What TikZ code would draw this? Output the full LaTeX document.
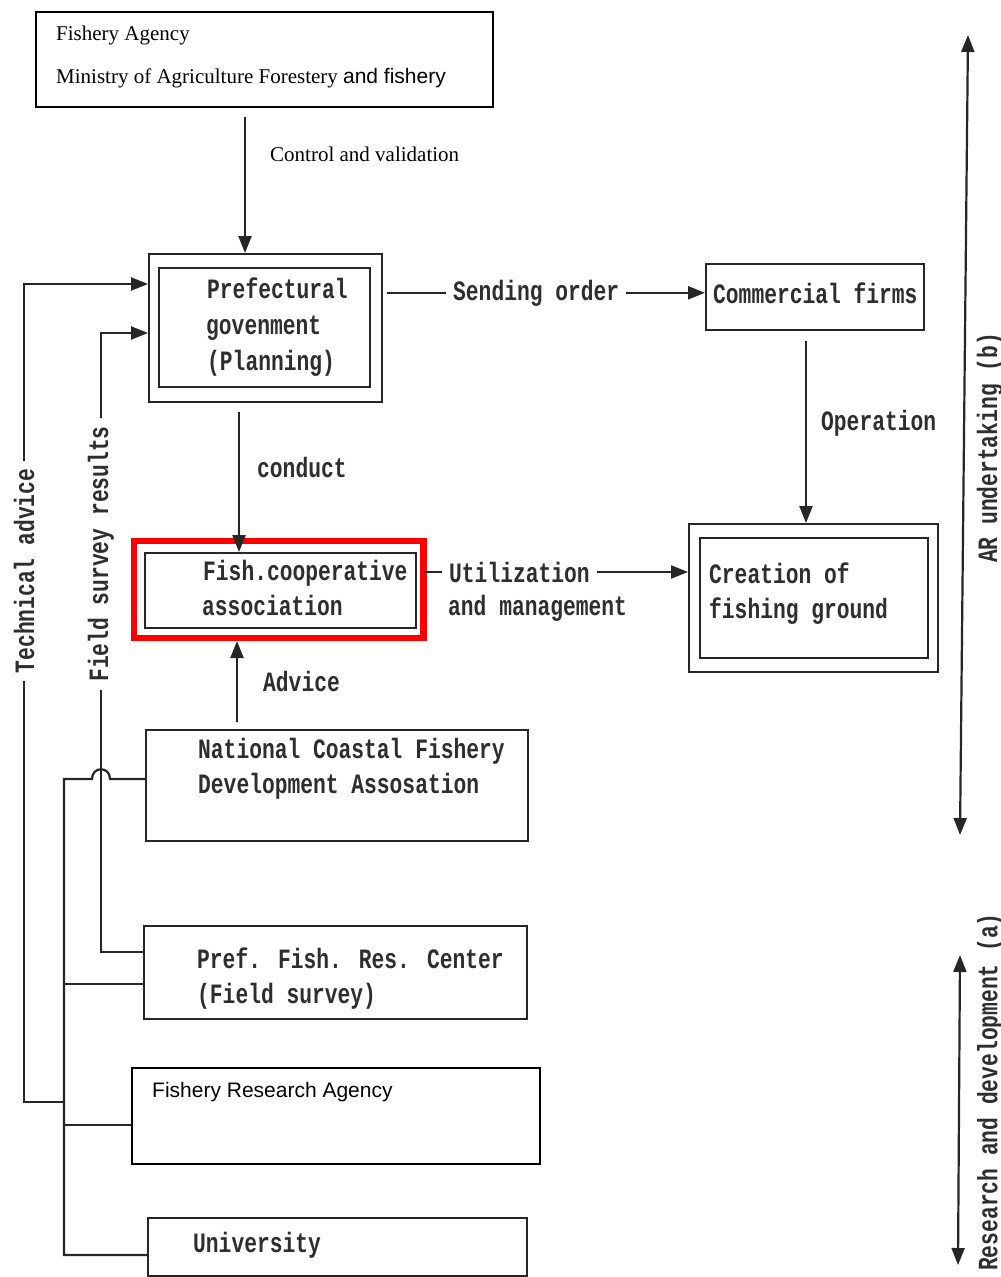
\documentclass[tikz,border=0pt]{standalone}
\usepackage{fontspec}
\setmainfont{Liberation Serif}
\newfontfamily\twfont[FakeStretch=0.76]{Liberation Mono}
\newfontfamily\sansfont{Liberation Sans}
\usetikzlibrary{arrows.meta}
\begin{document}
\begin{tikzpicture}[x=1pt,y=-1pt,
  ln/.style={line width=2.2pt,draw=black!85},
  tip/.tip={Triangle[length=17pt,width=13pt]},
  arr/.style={ln,-tip},
  bx/.style={draw=black!85,line width=2.2pt,inner sep=0pt,anchor=north west},
  tw/.style={font=\twfont\bfseries\fontsize{28}{34}\selectfont,inner sep=0pt,anchor=base west,text=black!82},
  sr/.style={font=\fontsize{21}{25}\selectfont,inner sep=0pt,anchor=base west},
  vt/.style={tw,anchor=center,rotate=90,inner xsep=8pt},
  gap/.style={inner xsep=7pt},
]
\useasboundingbox[fill=white] (0,0) rectangle (1001,1277);

% boxes
\node[bx,minimum width=457pt,minimum height=95pt,draw=black,line width=1.6pt] (fa) at (35,11) {};
\node[bx,minimum width=233pt,minimum height=148pt] (prefo) at (148,253) {};
\node[bx,minimum width=211pt,minimum height=119pt] (prefi) at (158,267) {};
\node[bx,minimum width=271pt,minimum height=75pt] (fca) at (144,552) {};
\node[draw=red,line width=6.5pt,inner sep=0pt,anchor=north west,minimum width=289.5pt,minimum height=97pt] (hl) at (130.5,537.5) {};
\node[bx,minimum width=382pt,minimum height=111pt] (ncf) at (145,729) {};
\node[bx,minimum width=383pt,minimum height=93pt] (pfr) at (143,925) {};
\node[bx,minimum width=408pt,minimum height=96pt,draw=black,line width=1.6pt] (fra) at (131,1067) {};
\node[bx,minimum width=379pt,minimum height=58pt] (uni) at (147,1217) {};
\node[bx,minimum width=218pt,minimum height=66pt] (com) at (705,263) {};
\node[bx,minimum width=249pt,minimum height=148pt] (crto) at (688,523) {};
\node[bx,minimum width=228pt,minimum height=120pt] (crti) at (699,537) {};

% texts in boxes
\node[sr] (fat) at (56,40) {Fishery Agency};
\node[sr] (mat) at (56,83) {Ministry of Agriculture Forestery {\sansfont and fishery}};
\node[tw] (pf1) at (207,298) {Prefectural};
\node[tw] (pf2) at (206,334) {govenment};
\node[tw] (pf3) at (207,370) {(Planning)};
\node[tw] (fc1) at (203,580) {Fish.cooperative};
\node[tw] (fc2) at (202,615) {association};
\node[tw] (nc1) at (198,758) {National Coastal Fishery};
\node[tw] (nc2) at (198,793) {Development Assosation};
\node[tw] (pr1) at (197,968) {Pref. Fish. Res. Center};
\node[tw] (pr2) at (197,1003) {(Field survey)};
\node[sr,font=\sansfont\fontsize{21}{25}\selectfont] (frt) at (152,1097) {Fishery Research Agency};
\node[tw] (unt) at (193,1252) {University};
\node[tw] (cmt) at (713,303) {Commercial firms};
\node[tw] (cr1) at (709,583) {Creation of};
\node[tw] (cr2) at (709,618) {fishing ground};

% connector labels
\node[sr] (cvt) at (270,161) {Control and validation};
\node[tw] (cdt) at (257,477) {conduct};
\node[tw] (adt) at (263,691) {Advice};
\node[tw] (opt) at (821,430) {Operation};
\node[tw,gap] (sot) at (446,300) {Sending order};
\node[tw,gap] (ut) at (442,582) {Utilization};
\node[tw] (amt) at (448,615) {and management};
\node[vt] (tech) at (24,571) {Technical advice};
\node[vt] (fsr) at (101,554) {Field survey results};
\node[tw,anchor=center,rotate=90] (arl) at (990,448) {AR undertaking (b)};
\node[tw,anchor=center,rotate=90] (rdl) at (990,1092) {Research and development (a)};

% helper coordinates
\coordinate (xa) at (245,0);
\coordinate (cx) at (239,0);
\coordinate (ax) at (237,0);
\coordinate (ox) at (806,0);
\coordinate (s1) at (387,0);
\coordinate (u1) at (424,0);
\coordinate (ta) at (148,284);
\coordinate (fa1) at (148,333);
\coordinate (fb) at (0,952);
\coordinate (tb) at (0,1102);
\coordinate (bt) at (64,779);
\coordinate (bbot) at (64,1255);
\coordinate (py) at (0,984);
\coordinate (fy) at (0,1125);
\coordinate (r1) at (968,35);
\coordinate (r2) at (960,835);
\coordinate (r3) at (960,955);
\coordinate (r4) at (958,1265);

% connectors
\draw[arr,shorten <=9pt] (fa.south -| xa) -- (prefo.north -| xa);
\draw[arr,shorten <=9pt] (prefo.south -| cx) -- (fca.north -| cx);
\draw[arr,shorten <=7pt] (ncf.north -| ax) -- (hl.south -| ax);
\draw[arr,shorten <=10pt] (com.south -| ox) -- (crto.north -| ox);
\draw[ln] (s1 |- sot.west) -- (sot.west);
\draw[arr] (sot.east) -- (com.west |- sot.east);
\draw[ln] (u1 |- ut.west) -- (ut.west);
\draw[arr] (ut.east) -- (crto.west |- ut.east);
\draw[arr] (tech.east) |- (ta);
\draw[ln] (tech.west) |- (bt |- tb);
\draw[arr] (fsr.east) |- (fa1);
\draw[ln] (fsr.west) |- (pfr.west |- fb);
\draw[ln] (ncf.west |- bt) -- (110,779) .. controls (110,766) and (92,766) .. (92,779) -- (bt) -- (bbot) -- (uni.west |- bbot);
\draw[ln] (bt |- py) -- (pfr.west |- py);
\draw[ln] (bt |- fy) -- (fra.west |- fy);
\draw[ln,tip-tip] (r1) -- (r2);
\draw[ln,tip-tip] (r3) -- (r4);
\end{tikzpicture}
\end{document}
